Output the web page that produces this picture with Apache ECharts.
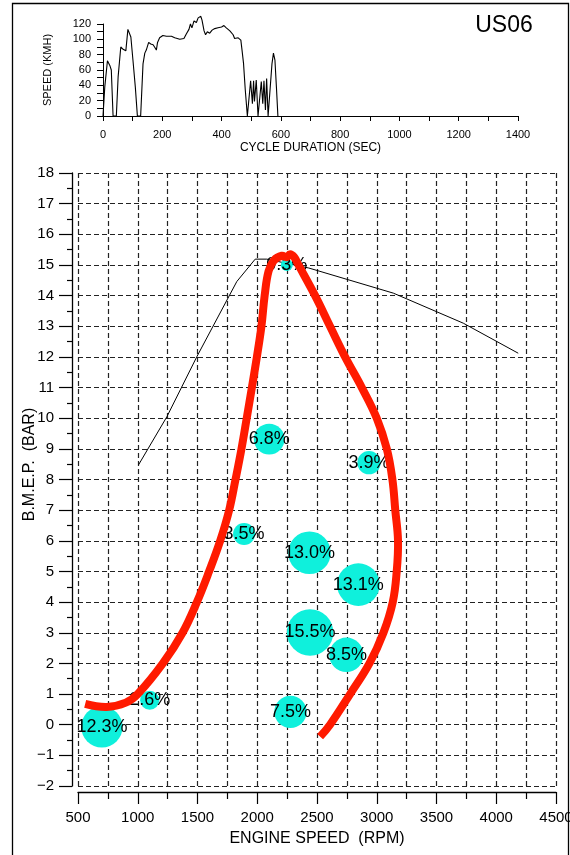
<!DOCTYPE html>
<html>
<head>
<meta charset="utf-8">
<title>US06</title>
<script src="https://cdn.jsdelivr.net/npm/echarts@6/dist/echarts.min.js"></script>
<style>
  html, body { margin: 0; padding: 0; background: #fff; }
  #chart { width: 570px; height: 855px; }
</style>
</head>
<body>
<div id="chart"></div>
<script>
// US06 cycle speed trace (sec, km/h)
var cycleTime = [0, 6, 15, 23, 28, 34, 45, 51, 60, 68, 77, 84, 89, 94, 101, 109, 116, 127, 135, 141,
  146, 154, 161, 169, 174, 180, 184, 191, 202, 214, 231, 242, 259, 273, 281, 290, 295, 300, 307, 315,
  321, 330, 334, 341, 346, 352, 360, 368, 377, 388, 400, 408, 416, 428, 439, 444, 456, 465, 469, 474,
  480, 487, 493, 498, 504, 508, 511, 517, 523, 529, 534, 539, 543, 548, 552, 557, 563, 570, 575, 580,
  585, 590];
var cycleSpeed = [0, 38, 72, 66, 60, 0, 0, 51, 90, 87, 85, 113, 114, 103, 73, 38, 0, 0, 68, 82,
  86, 96, 94, 93, 90, 86, 96, 102, 105, 104, 104, 102, 100, 101, 107, 113, 120, 115, 124, 122,
  128, 130, 125, 111, 106, 110, 108, 112, 114, 115, 116, 118, 115, 111, 106, 101, 102, 99, 86, 69,
  34, 0, 0, 46, 16, 46, 19, 47, 0, 0, 45, 16, 46, 8, 49, 0, 0, 68, 82, 73,
  38, 0];

// full load curve
var torqueRpm = [1007, 1244, 1495, 1829, 1983, 2080, 2431, 3139, 3724, 4184];
var torqueBmep = [8.48, 10.05, 12.01, 14.46, 15.19, 15.19, 14.9, 14.08, 13.1, 12.12];

// operating envelope (red)
var envRpm = [560, 740, 900, 1000, 1210, 1375, 1495, 1597, 1690, 1765, 1818, 1868, 1912, 1955, 1997,
  2035, 2062, 2095, 2140, 2206, 2245, 2275, 2310, 2345, 2484, 2609, 2735, 2875, 3000, 3084, 3131,
  3155, 3178, 3167, 3134, 3056, 2939, 2777, 2609, 2526];
var envBmep = [0.68, 0.58, 0.72, 1.0, 2.0, 3.0, 4.0, 5.0, 6.0, 7.0, 8.0, 9.0, 10.0, 11.0, 12.0,
  13.0, 14.0, 14.8, 15.15, 15.3, 15.25, 15.35, 15.25, 15.0, 14.0, 13.0, 12.0, 11.0, 10.0, 9.0, 8.0,
  7.0, 6.0, 5.0, 4.0, 3.0, 2.0, 1.0, 0.0, -0.39];

// time share bubbles
var bubRpm = [700, 1100, 1890, 2100, 2247, 2935, 2437, 2846, 2442, 2746, 2278];
var bubBmep = [-0.07, 0.8, 6.22, 9.32, 15.0, 8.55, 5.61, 4.57, 3.01, 2.28, 0.42];
var bubPct = [12.3, 2.6, 3.5, 6.8, 0.3, 3.9, 13.0, 13.1, 15.5, 8.5, 7.5];

function pairs(xs, ys) {
  return xs.map(function (x, i) { return [x, ys[i]]; });
}

var font = 'Liberation Sans, Arial, Helvetica, sans-serif';
var ink = '#000';
var dash = { color: '#222', width: 1.2, type: [5, 3] };

var chart = echarts.init(document.getElementById('chart'), null, { renderer: 'canvas' });

// red envelope drawn as one smooth path (line series smoothing clamps and kinks on loops)
function renderEnvelope(params, api) {
  if (params.dataIndex !== 0) return null;
  var pts = envRpm.map(function (r, i) { return api.coord([r, envBmep[i]]); });
  return {
    type: 'polyline',
    shape: { points: pts, smooth: 0.4 },
    style: { stroke: '#ff1a00', lineWidth: 8, fill: null }
  };
}

var option = {
  backgroundColor: '#ffffff',
  animation: false,
  textStyle: { fontFamily: font, color: ink },
  grid: [
    { left: 103, right: 52, top: 24, height: 92, outerBoundsMode: 'none' },
    { left: 78, right: 14, top: 173, height: 613, outerBoundsMode: 'none' }
  ],
  xAxis: [{
    gridIndex: 0, type: 'value', min: 0, max: 1400, interval: 100,
    name: 'CYCLE DURATION (SEC)', nameLocation: 'middle', nameGap: 26, nameMoveOverlap: false,
    nameTextStyle: { fontSize: 12, color: ink },
    axisLine: { onZero: false, lineStyle: { color: ink, width: 1 } },
    axisTick: { length: 5, lineStyle: { color: ink } },
    axisLabel: {
      fontSize: 11, color: ink, margin: 13,
      formatter: function (v) { return v % 200 === 0 ? String(v) : ''; }
    },
    splitLine: { show: false }
  }, {
    gridIndex: 1, type: 'value', min: 500, max: 4500, interval: 500, offset: 6,
    name: 'ENGINE SPEED  (RPM)', nameLocation: 'middle', nameGap: 39, nameMoveOverlap: false,
    nameTextStyle: { fontSize: 16, color: ink },
    axisLine: { onZero: false, lineStyle: { color: ink, width: 1.3 } },
    axisTick: { length: 12, lineStyle: { color: ink, width: 1.2 } },
    minorTick: { show: true, splitNumber: 2, length: 7, lineStyle: { color: ink, width: 1.2 } },
    axisLabel: {
      fontSize: 15, color: ink, margin: 18,
      formatter: function (v) { return String(v); }
    },
    splitLine: { show: true, lineStyle: dash },
    minorSplitLine: { show: true, lineStyle: dash }
  }],
  yAxis: [{
    gridIndex: 0, type: 'value', min: 0, max: 120, interval: 10,
    name: 'SPEED (KMH)', nameLocation: 'middle', nameGap: 50, nameMoveOverlap: false,
    nameTextStyle: { fontSize: 11, color: ink },
    axisLine: { show: true, onZero: false, lineStyle: { color: ink, width: 1 } },
    axisTick: { show: true, length: 6, lineStyle: { color: ink } },
    axisLabel: {
      fontSize: 11, color: ink, margin: 12,
      formatter: function (v) { return v % 20 === 0 ? String(v) : ''; }
    },
    splitLine: { show: false }
  }, {
    gridIndex: 1, type: 'value', min: -2, max: 18, interval: 1, offset: 6,
    name: 'B.M.E.P.  (BAR)', nameLocation: 'middle', nameGap: 34, nameMoveOverlap: false,
    nameTextStyle: { fontSize: 16, color: ink, padding: [0, 0, 0, 30] },
    axisLine: { show: true, onZero: false, lineStyle: { color: ink, width: 1.3 } },
    axisTick: { show: true, length: 13, lineStyle: { color: ink, width: 1.2 } },
    minorTick: { show: true, splitNumber: 2, length: 5, lineStyle: { color: ink, width: 1.2 } },
    axisLabel: {
      fontSize: 15, color: ink, margin: 18,
      formatter: function (v) { return String(v).replace('-', '\u2212'); }
    },
    splitLine: { show: true, lineStyle: dash }
  }],
  graphic: [
    {
      type: 'rect', silent: true, z: 100,
      shape: { x: 12.5, y: 3.5, width: 556, height: 900 },
      style: { fill: 'none', stroke: ink, lineWidth: 1.3 }
    },
    {
      type: 'text', silent: true, z: 100, x: 504, y: 26,
      style: { text: 'US06', font: '23px ' + font, fill: ink, align: 'center', verticalAlign: 'middle' }
    }
  ],
  series: [
    {
      type: 'line', xAxisIndex: 0, yAxisIndex: 0,
      data: pairs(cycleTime, cycleSpeed),
      showSymbol: false, symbol: 'none', clip: false,
      lineStyle: { color: ink, width: 1.1 },
      z: 2
    },
    {
      type: 'line', xAxisIndex: 1, yAxisIndex: 1,
      data: pairs(torqueRpm, torqueBmep),
      showSymbol: false, symbol: 'none',
      lineStyle: { color: ink, width: 1 },
      z: 2
    },
    {
      type: 'scatter', xAxisIndex: 1, yAxisIndex: 1,
      data: bubRpm.map(function (r, i) { return [r, bubBmep[i], bubPct[i]]; }),
      symbolSize: function (val) { return Math.max(12, 11.8 * Math.sqrt(val[2])); },
      itemStyle: { color: '#0ff0dc', opacity: 1 },
      label: {
        show: true, position: 'inside', color: ink, fontSize: 18,
        formatter: function (p) { return p.value[2].toFixed(1) + '%'; }
      },
      z: 3
    },
    {
      type: 'custom', xAxisIndex: 1, yAxisIndex: 1,
      data: pairs(envRpm, envBmep),
      renderItem: renderEnvelope,
      silent: true,
      z: 4
    }
  ]
};

chart.setOption(option);
</script>
</body>
</html>
